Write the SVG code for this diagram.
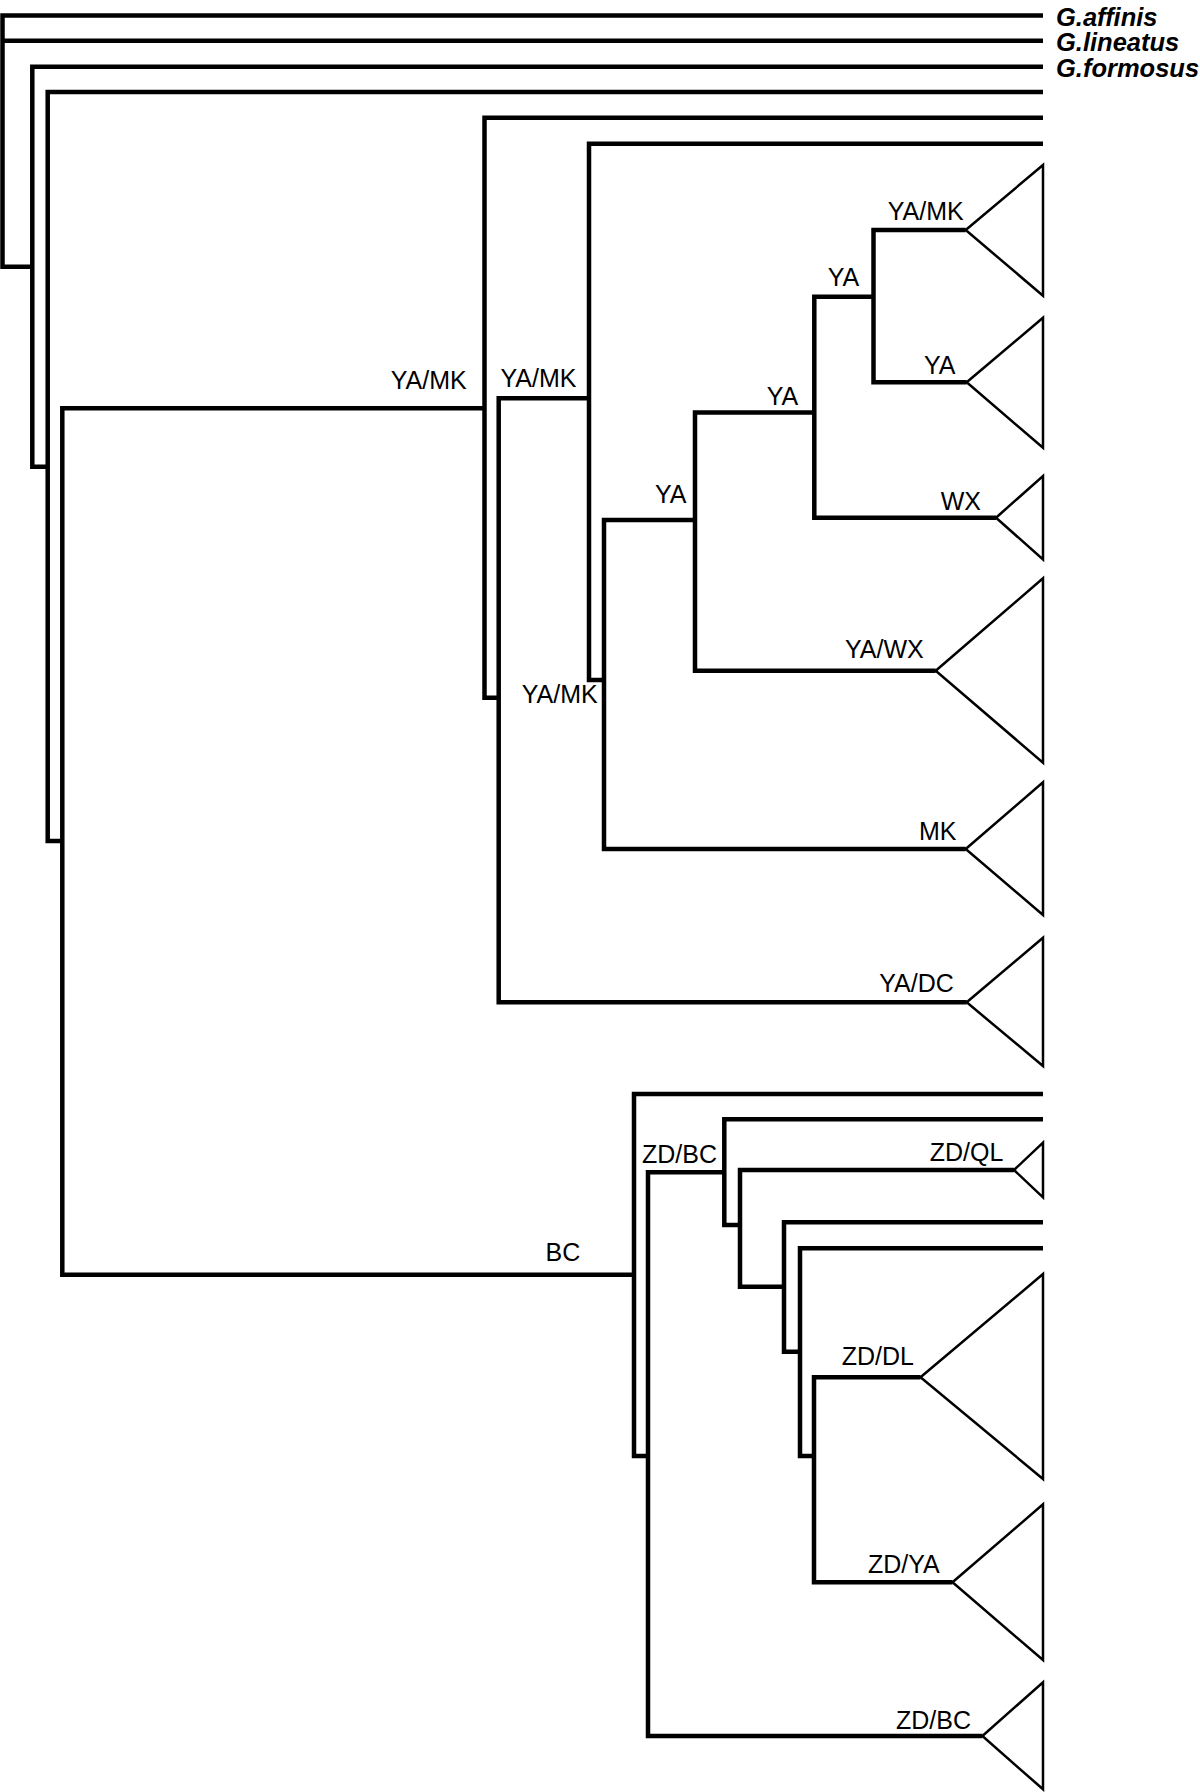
<svg xmlns="http://www.w3.org/2000/svg" width="1200" height="1792" viewBox="0 0 1200 1792">
<style>
.br{fill:none;stroke:#000;stroke-width:4.5;stroke-linejoin:miter;stroke-linecap:butt}
.tri{fill:none;stroke:#000;stroke-width:2.5;stroke-linejoin:miter}
.lb{font-family:"Liberation Sans",Arial,sans-serif;font-size:25px;fill:#000}
.sp{font-family:"Liberation Sans",Arial,sans-serif;font-size:25.5px;font-weight:bold;font-style:italic;fill:#000}
</style>
<rect width="1200" height="1792" fill="#fff"/>
<g id="connectors">
<path class="br" d="M1043 15.5 H2.5 V266.7 H32.3"/>
<path class="br" d="M1043 40.7 H2.5"/>
<path class="br" d="M1043 66.7 H32.3 V466.7 H47.7"/>
<path class="br" d="M1043 92 H47.7 V841 H62.3"/>
<path class="br" d="M484.5 408.3 H62.3 V1274.7 H634"/>
<path class="br" d="M1043 117.7 H484.5 V697.7 H498.7"/>
<path class="br" d="M589 398.3 H498.7 V1002.3 H966.7"/>
<path class="br" d="M1043 143.7 H589 V680 H604"/>
<path class="br" d="M695 520 H604 V849 H965.7"/>
<path class="br" d="M814.3 412.5 H695 V670.7 H935.7"/>
<path class="br" d="M873.5 296.7 H814.3 V517.7 H996"/>
<path class="br" d="M965.7 230 H873.5 V382.3 H966.7"/>
<path class="br" d="M1043 1094 H634 V1456 H648"/>
<path class="br" d="M724.3 1172.3 H648 V1736 H982.4"/>
<path class="br" d="M1043 1119.3 H724.3 V1225 H740"/>
<path class="br" d="M1014 1170 H740 V1286.7 H784"/>
<path class="br" d="M1043 1222.3 H784 V1351.7 H800"/>
<path class="br" d="M1043 1248.3 H800 V1456 H814"/>
<path class="br" d="M920.5 1377.3 H814 V1582.3 H952.5"/>
</g>
<g id="taxon-affinis"><text class="sp" x="1056" y="25.5">G.affinis</text></g>
<g id="taxon-lineatus"><text class="sp" x="1056" y="50.7">G.lineatus</text></g>
<g id="taxon-formosus"><text class="sp" x="1056" y="76.5">G.formosus</text></g>
<g id="clade-ya-mk-top"><polygon class="tri" points="965.7,230 1043,165 1043,295.7"/><text class="lb" x="887.7" y="220">YA/MK</text></g>
<g id="node-ya-1"><text class="lb" x="827.7" y="285.7">YA</text></g>
<g id="clade-ya"><polygon class="tri" points="966.7,382.3 1043,317.7 1043,447.7"/><text class="lb" x="924" y="374">YA</text></g>
<g id="node-ya-2"><text class="lb" x="766.7" y="405">YA</text></g>
<g id="clade-wx"><polygon class="tri" points="996,517.7 1043,476 1043,559.4"/><text class="lb" x="940.7" y="510">WX</text></g>
<g id="node-ya-mk-1"><text class="lb" x="390.7" y="389">YA/MK</text></g>
<g id="node-ya-mk-2"><text class="lb" x="500.5" y="387">YA/MK</text></g>
<g id="node-ya-mk-3"><text class="lb" x="521.7" y="703.3">YA/MK</text></g>
<g id="node-ya-3"><text class="lb" x="655" y="503.3">YA</text></g>
<g id="clade-ya-wx"><polygon class="tri" points="935.7,670.7 1043,578.3 1043,762.7"/><text class="lb" x="845" y="658.3">YA/WX</text></g>
<g id="clade-mk"><polygon class="tri" points="965.7,849 1043,782.3 1043,915"/><text class="lb" x="919" y="840">MK</text></g>
<g id="clade-ya-dc"><polygon class="tri" points="966.7,1002.3 1043,937.7 1043,1066"/><text class="lb" x="879.3" y="991.7">YA/DC</text></g>
<g id="node-bc"><text class="lb" x="545.5" y="1260.7">BC</text></g>
<g id="node-zd-bc"><text class="lb" x="642" y="1163.3">ZD/BC</text></g>
<g id="clade-zd-ql"><polygon class="tri" points="1014,1170 1043,1142.7 1043,1197.3"/><text class="lb" x="929.7" y="1161">ZD/QL</text></g>
<g id="clade-zd-dl"><polygon class="tri" points="920.5,1377.3 1043,1274 1043,1479"/><text class="lb" x="841.7" y="1365">ZD/DL</text></g>
<g id="clade-zd-ya"><polygon class="tri" points="952.5,1582.3 1043,1504.3 1043,1660"/><text class="lb" x="868" y="1572.7">ZD/YA</text></g>
<g id="clade-zd-bc"><polygon class="tri" points="982.4,1736 1043,1682.3 1043,1789.3"/><text class="lb" x="896" y="1729.3">ZD/BC</text></g>
</svg>
